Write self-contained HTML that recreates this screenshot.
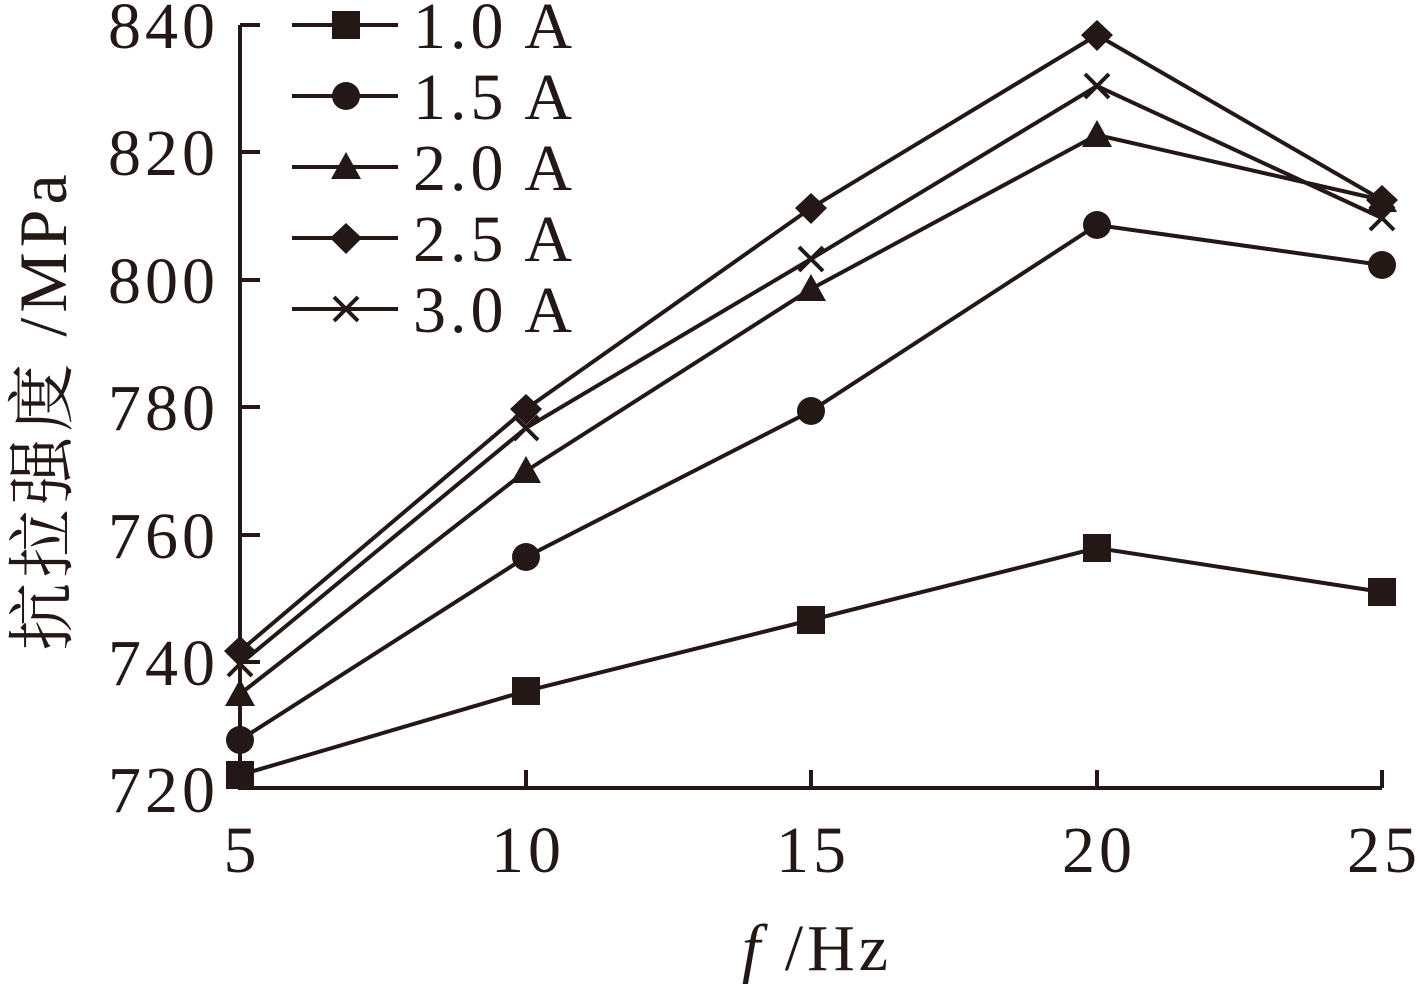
<!DOCTYPE html>
<html><head><meta charset="utf-8"><style>body{margin:0;background:#fff}</style></head><body>
<svg width="1417" height="992" xmlns="http://www.w3.org/2000/svg" font-family="Liberation Serif, serif" fill="#231815">
<g stroke="#231815" stroke-width="4" fill="none">
<path d="M240,25 V788 H1382"/>
<path d="M240,25h20M240,152h20M240,280h20M240,407h20M240,535h20M240,662h20"/>
<path d="M526,788v-18M811,788v-18M1097,788v-18M1382,788v-18"/>
<polyline points="240,775 526,691 811,620 1097,548 1382,592"/>
<polyline points="240,740 526,557 811,411 1097,225 1382,265"/>
<polyline points="240,694 526,471 811,289 1097,135 1382,200"/>
<polyline points="240,651 526,409 811,208 1097,35 1382,200"/>
<polyline points="240,664 526,428 811,259 1097,86 1382,218"/>
<path d="M292,25h106M292,96h106M292,167h106M292,238h106M292,309h106"/>
</g>
<g>
<rect x="226" y="761" width="28" height="28"/><rect x="512" y="677" width="28" height="28"/><rect x="797" y="606" width="28" height="28"/><rect x="1083" y="534" width="28" height="28"/><rect x="1368" y="578" width="28" height="28"/><rect x="332" y="11" width="28" height="28"/>
<circle cx="240" cy="740" r="14"/><circle cx="526" cy="557" r="14"/><circle cx="811" cy="411" r="14"/><circle cx="1097" cy="225" r="14"/><circle cx="1382" cy="265" r="14"/><circle cx="346" cy="96" r="14"/>
<path d="M240,679l15,27h-30zM526,456l15,27h-30zM811,274l15,27h-30zM1097,120l15,27h-30zM1382,185l15,27h-30zM346,152l15,27h-30z"/>
<path d="M240,636l16,15-16,16-16-16zM526,394l16,15-16,16-16-16zM811,193l16,15-16,16-16-16zM1097,20l16,15-16,16-16-16zM1382,185l16,15-16,16-16-16zM346,223l16,15-16,16-16-16z"/>
</g>
<g stroke="#231815" stroke-width="4">
<path d="M228,652l24,24M252,652l-24,24M514,416l24,24M538,416l-24,24M799,247l24,24M823,247l-24,24M1085,74l24,24M1109,74l-24,24M1370,206l24,24M1394,206l-24,24M334,297l24,24M358,297l-24,24"/>
</g>
<g font-size="66" letter-spacing="4">
<text x="413" y="48">1.0 A</text><text x="413" y="119">1.5 A</text><text x="413" y="190">2.0 A</text><text x="413" y="261">2.5 A</text><text x="413" y="332">3.0 A</text>
</g>
<g font-size="66" letter-spacing="4" text-anchor="end">
<text x="219" y="48">840</text><text x="219" y="175">820</text><text x="219" y="303">800</text><text x="219" y="430">780</text><text x="219" y="558">760</text><text x="219" y="685">740</text><text x="219" y="812">720</text>
</g>
<g font-size="66" letter-spacing="4" text-anchor="middle">
<text x="242" y="872">5</text><text x="528" y="872">10</text><text x="813" y="872">15</text><text x="1099" y="872">20</text><text x="1384" y="872">25</text>
<text x="817" y="970"><tspan font-style="italic">f</tspan> /Hz</text>
</g>
<text transform="translate(66,410) rotate(-90)" font-size="68" letter-spacing="5" text-anchor="middle" font-family="Liberation Serif, Noto Serif CJK SC, serif">抗拉强度 /MPa</text>
</svg>
</body></html>
